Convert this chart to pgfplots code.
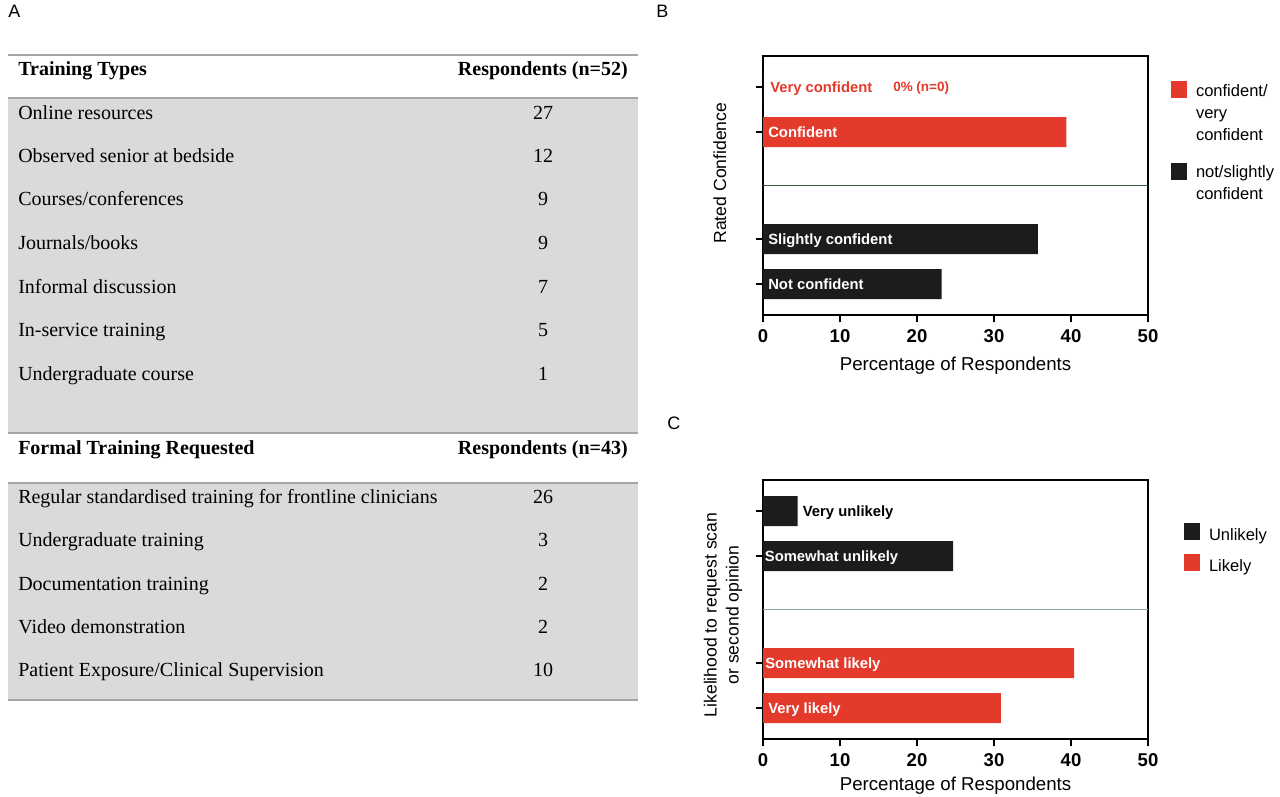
\documentclass[border=0pt]{standalone}
\usepackage{pgfplots}
\pgfplotsset{compat=1.18}
\usepackage{fontspec}
\setmainfont{Liberation Serif}
\newfontfamily\sansf{Liberation Sans}
\definecolor{cRed}{HTML}{E43A2C}
\definecolor{cBlack}{HTML}{1C1C1C}
\definecolor{cGrey}{HTML}{DADADA}
\definecolor{cRule}{HTML}{A6A6A6}
\definecolor{cDivB}{HTML}{2F5F3F}
\definecolor{cDivC}{HTML}{8FA898}
\newcommand\barfont{\sansf\bfseries\fontsize{11.1}{13}\selectfont}
\newcommand\smallbarfont{\sansf\bfseries\fontsize{10.1}{12}\selectfont}
\pgfplotsset{
  mybar/.style={xbar, bar shift=0pt, bar width=0.667, draw=none, fill=#1,
    legend image code/.code={\fill[#1] (0pt,-6.75pt) rectangle (12pt,6pt);}},
  mybarC/.style={xbar, bar shift=0pt, bar width=0.667, draw=none, fill=#1,
    legend image code/.code={\fill[#1] (0pt,-3pt) rectangle (12pt,9.75pt);}},
  panel/.style={
    scale only axis, width=288.75pt, height=194.25pt, anchor=south west,
    xmin=0, xmax=50, ymin=0.311, ymax=6.07,
    xtick={0,10,20,30,40,50}, ytick={1,2,4.38,5.38}, yticklabels={},
    tick align=outside, xtick pos=bottom, ytick pos=left,
    major tick length=5.5pt,
    axis line style={line width=1.5pt},
    tick style={line width=1.5pt, black},
    ticklabel style={font=\sansf\bfseries\fontsize{13.9}{16}\selectfont},
    xticklabel style={yshift=-2.25pt},
    /pgf/number format/assume math mode=true,
    xlabel={Percentage of Respondents},
    xlabel style={font=\sansf\fontsize{14}{16}\selectfont, at={(rel axis cs:0.5,0)}, anchor=center},
    ylabel style={font=\sansf\fontsize{13.2}{16.5}\selectfont, anchor=center, align=center},
    legend style={draw=none, fill=none, inner sep=0pt, outer sep=0pt, anchor=north west,
      column sep=6.75pt, font=\sansf\fontsize{12.4}{16.5}\selectfont, nodes={inner sep=0pt}},
    legend cell align=left,
    clip=false,
  }
}
\begin{document}
\begin{tikzpicture}[x=0.75pt,y=-0.75pt]
\useasboundingbox (0,0) rectangle (1280,796);
\fill[white] (0,0) rectangle (1280,796);
% panel letters
\node[anchor=north west, inner sep=0pt, font=\sansf\fontsize{13.5}{15}\selectfont] at (8,5) {A};
\node[anchor=north west, inner sep=0pt, font=\sansf\fontsize{13.5}{15}\selectfont] at (656,5) {B};
\node[anchor=north west, inner sep=0pt, font=\sansf\fontsize{13.5}{15}\selectfont] at (667,417) {C};
% table
\fill[cGrey] (8,98) rectangle (638,433);
\fill[cGrey] (8,483) rectangle (638,700);
\draw[cRule, line width=1.5pt] (8,55) -- (638,55);
\draw[cRule, line width=1.5pt] (8,98) -- (638,98);
\draw[cRule, line width=1.5pt] (8,433) -- (638,433);
\draw[cRule, line width=1.5pt] (8,483) -- (638,483);
\draw[cRule, line width=1.5pt] (8,700) -- (638,700);
\begin{scope}[every node/.style={inner sep=0pt, font=\fontsize{15}{18}\selectfont}]
\node[anchor=base west] at (18,75) {\bfseries Training Types};
\node[anchor=base east] at (628,75) {\bfseries Respondents (n=52)};
\node[anchor=base west] at (18,119) {Online resources};
\node[anchor=base] at (543,119) {27};
\node[anchor=base west] at (18,162) {Observed senior at bedside};
\node[anchor=base] at (543,162) {12};
\node[anchor=base west] at (18,205) {Courses/conferences};
\node[anchor=base] at (543,205) {9};
\node[anchor=base west] at (18,249) {Journals/books};
\node[anchor=base] at (543,249) {9};
\node[anchor=base west] at (18,293) {Informal discussion};
\node[anchor=base] at (543,293) {7};
\node[anchor=base west] at (18,336) {In-service training};
\node[anchor=base] at (543,336) {5};
\node[anchor=base west] at (18,380) {Undergraduate course};
\node[anchor=base] at (543,380) {1};
\node[anchor=base west] at (18,454) {\bfseries Formal Training Requested};
\node[anchor=base east] at (628,454) {\bfseries Respondents (n=43)};
\node[anchor=base west] at (18,503) {Regular standardised training for frontline clinicians};
\node[anchor=base] at (543,503) {26};
\node[anchor=base west] at (18,546) {Undergraduate training};
\node[anchor=base] at (543,546) {3};
\node[anchor=base west] at (18,590) {Documentation training};
\node[anchor=base] at (543,590) {2};
\node[anchor=base west] at (18,633) {Video demonstration};
\node[anchor=base] at (543,633) {2};
\node[anchor=base west] at (18,676) {Patient Exposure/Clinical Supervision};
\node[anchor=base] at (543,676) {10};
\end{scope}
% panel B
\begin{axis}[panel, at={(572.25pt,-236.25pt)},
  xlabel style={yshift=-38.25pt},
  ylabel={Rated Confidence},
  ylabel style={at={(rel axis cs:-0.112,0.548)}},
  legend style={at={(rel axis cs:1.0597,0.905)}, row sep=48pt}]
\addplot[mybar=cRed] coordinates {(0,5.38) (39.4,4.38)};
\addlegendentry{\begin{tabular}[t]{@{}l@{}}confident/\\very\\confident\end{tabular}}
\addplot[mybar=cBlack] coordinates {(35.7,2) (23.2,1)};
\addlegendentry{\begin{tabular}[t]{@{}l@{}}not/slightly\\confident\end{tabular}}
\addplot[cDivB, line width=0.75pt, forget plot] coordinates {(0,3.2) (50,3.2)};
\node[anchor=base west, inner sep=0pt, text=cRed, font=\barfont, xshift=5.25pt, yshift=-3.97pt] at (axis cs:0,5.38) {Very confident};
\node[anchor=base west, inner sep=0pt, text=cRed, font=\smallbarfont, xshift=97.5pt, yshift=-3.6pt] at (axis cs:0,5.38) {0\% (n=0)};
\node[anchor=base west, inner sep=0pt, text=white, font=\barfont, xshift=3.75pt, yshift=-3.97pt] at (axis cs:0,4.38) {Confident};
\node[anchor=base west, inner sep=0pt, text=white, font=\barfont, xshift=3.75pt, yshift=-3.97pt] at (axis cs:0,2) {Slightly confident};
\node[anchor=base west, inner sep=0pt, text=white, font=\barfont, xshift=3.75pt, yshift=-3.97pt] at (axis cs:0,1) {Not confident};
\end{axis}
% panel C
\begin{axis}[panel, at={(572.25pt,-554.25pt)},
  xlabel style={yshift=-35.25pt},
  ylabel={Likelihood to request scan\\or second opinion},
  ylabel style={at={(rel axis cs:-0.104,0.479)}},
  legend style={at={(rel axis cs:1.0935,0.834)}, row sep=7.5pt, nodes={text height=9pt, text depth=3pt}}]
\addplot[mybarC=cBlack] coordinates {(4.5,5.38) (24.7,4.38)};
\addlegendentry{Unlikely}
\addplot[mybarC=cRed] coordinates {(40.4,2) (30.9,1)};
\addlegendentry{Likely}
\addplot[cDivC, line width=0.75pt, forget plot] coordinates {(0,3.2) (50,3.2)};
\node[anchor=base west, inner sep=0pt, text=black, font=\barfont, xshift=3.75pt, yshift=-3.97pt] at (axis cs:4.5,5.38) {Very unlikely};
\node[anchor=base west, inner sep=0pt, text=white, font=\barfont, xshift=1.2pt, yshift=-3.97pt] at (axis cs:0,4.38) {Somewhat unlikely};
\node[anchor=base west, inner sep=0pt, text=white, font=\barfont, xshift=1.5pt, yshift=-3.97pt] at (axis cs:0,2) {Somewhat likely};
\node[anchor=base west, inner sep=0pt, text=white, font=\barfont, xshift=3.75pt, yshift=-3.97pt] at (axis cs:0,1) {Very likely};
\end{axis}
\end{tikzpicture}
\end{document}
